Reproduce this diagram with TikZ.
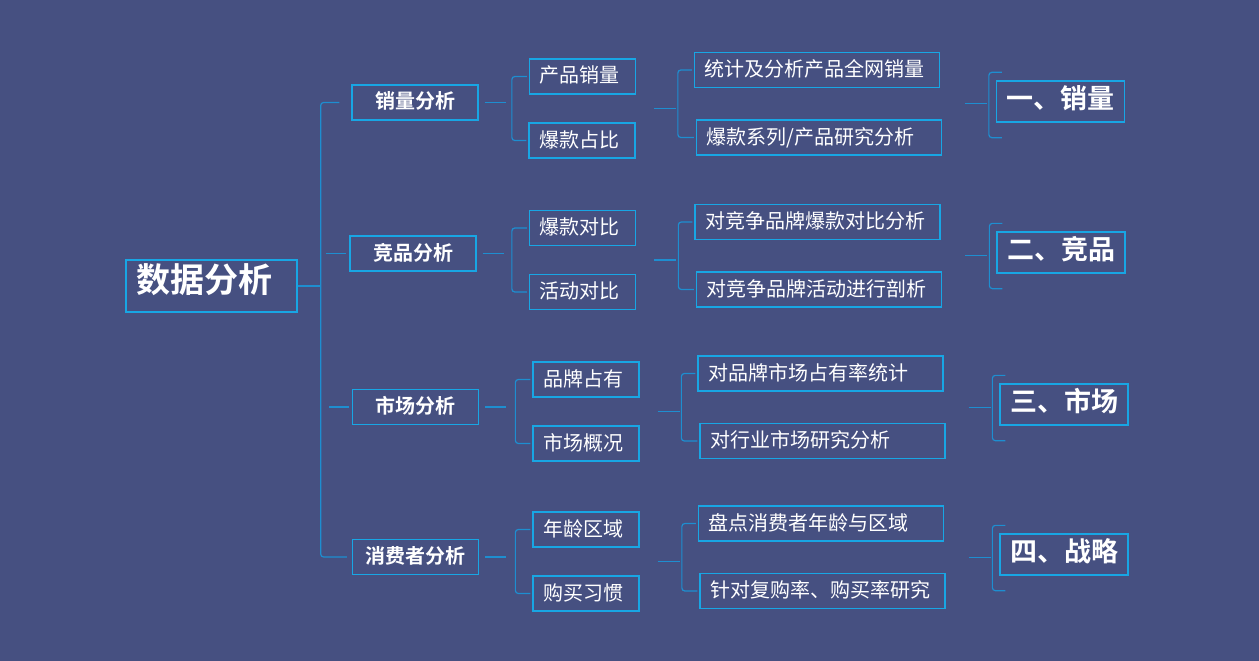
\documentclass[tikz,border=0pt]{standalone}
\usepackage{fontspec}
\setmainfont{Noto Sans CJK SC}[BoldFont={Noto Sans CJK SC Bold}]
\usetikzlibrary{calc}
\definecolor{bgblue}{RGB}{70,80,129}
\definecolor{boxcyan}{RGB}{24,166,228}
\definecolor{linkcyan}{RGB}{30,142,208}
\begin{document}
\begin{tikzpicture}[x=1pt,y=-1pt,
  box/.style={draw=boxcyan, line width=1.3pt, text=white, inner xsep=10pt, inner ysep=0pt, text height=1.3em, text depth=0em},
  rootbox/.style={box, font=\fontsize{34}{40}\selectfont\bfseries, text width=151pt, align=left, minimum height=52pt},
  lvlone/.style={box, font=\fontsize{20}{24}\selectfont\bfseries, inner xsep=0pt, minimum width=126pt, minimum height=35pt},
  lvltwo/.style={box, font=\fontsize{20}{24}\selectfont, text width=86pt, align=left, minimum height=35pt},
  lvlthree/.style={box, font=\fontsize{20}{24}\selectfont, text width=225pt, align=left, minimum height=35pt},
  lvlfour/.style={box, font=\fontsize{27}{32}\selectfont\bfseries, text width=108pt, align=left, minimum height=41pt},
  link/.style={draw=linkcyan, line width=1.2pt}]
\fill[bgblue] (0,0) rectangle (1259,661);
\useasboundingbox (0,0) rectangle (1259,661);
% root and first level
\node[rootbox] (root) at (211.5,286) {数据分析};
\node[lvlone] (b1) at (415,102.5) {销量分析};
\node[lvlone] (b2) at (413,253.5) {竞品分析};
\node[lvlone] (b3) at (415.5,407) {市场分析};
\node[lvlone] (b4) at (415.5,557) {消费者分析};
% second level
\node[lvltwo] (c1) at (582.5,76.5) {产品销量};
\node[lvltwo] (c2) at (582,140.5) {爆款占比};
\node[lvltwo] (c3) at (582.5,228) {爆款对比};
\node[lvltwo] (c4) at (582.5,292) {活动对比};
\node[lvltwo] (c5) at (586,379.5) {品牌占有};
\node[lvltwo] (c6) at (586,443.5) {市场概况};
\node[lvltwo] (c7) at (586,529.5) {年龄区域};
\node[lvltwo] (c8) at (586,593.5) {购买习惯};
% third level
\node[lvlthree] (d1) at (817,70) {统计及分析产品全网销量};
\node[lvlthree] (d2) at (819,137.5) {爆款系列/产品研究分析};
\node[lvlthree] (d3) at (817.5,222) {对竞争品牌爆款对比分析};
\node[lvlthree] (d4) at (819,289.5) {对竞争品牌活动进行剖析};
\node[lvlthree] (d5) at (820.5,373.5) {对品牌市场占有率统计};
\node[lvlthree] (d6) at (822.5,441) {对行业市场研究分析};
\node[lvlthree] (d7) at (821,523.5) {盘点消费者年龄与区域};
\node[lvlthree] (d8) at (822.5,591) {针对复购率、购买率研究};
% results
\node[lvlfour] (e1) at (1060.5,101.5) {一、销量};
\node[lvlfour] (e2) at (1061,252.5) {二、竞品};
\node[lvlfour] (e3) at (1064,404.5) {三、市场};
\node[lvlfour] (e4) at (1064,554.5) {四、战略};
% trunk
\draw[link] (root.east) -- ++(23,0) coordinate (trunk);
\draw[link,rounded corners=3pt] ([xshift=-12pt]b1.west) -- (trunk |- b1.west) -- (trunk |- b4.west) -- ([xshift=-5pt]b4.west);
\draw[link] ([xshift=-23pt]b2.west) -- ([xshift=-3pt]b2.west);
\draw[link] ([xshift=-23pt]b3.west) -- ([xshift=-3pt]b3.west);
% first level to second level
\draw[link] ([xshift=6pt]b1.east) -- ++(21,0);
\draw[link] ([xshift=6pt]b2.east) -- ++(21,0);
\draw[link] ([xshift=6pt]b3.east) -- ++(21,0);
\draw[link] ([xshift=6pt]b4.east) -- ++(21,0);
\draw[link,rounded corners=3pt] ([xshift=-2pt]c1.west) -- ++(-15,0) |- ([xshift=-2pt]c2.west);
\draw[link,rounded corners=3pt] ([xshift=-2pt]c3.west) -- ++(-15,0) |- ([xshift=-2pt]c4.west);
\draw[link,rounded corners=3pt] ([xshift=-2pt]c5.west) -- ++(-15,0) |- ([xshift=-2pt]c6.west);
\draw[link,rounded corners=3pt] ([xshift=-2pt]c7.west) -- ++(-15,0) |- ([xshift=-2pt]c8.west);
% second level to third level
\draw[link] ($(c1.east)!.5!(c2.east)+(18,0)$) -- ++(22,0);
\draw[link] ($(c3.east)!.5!(c4.east)+(18,0)$) -- ++(22,0);
\draw[link] ($(c5.east)!.5!(c6.east)+(18,0)$) -- ++(22,0);
\draw[link] ($(c7.east)!.5!(c8.east)+(18,0)$) -- ++(22,0);
\draw[link,rounded corners=3pt] ([xshift=-2pt]d1.west) -- ++(-14,0) |- ([xshift=-2pt]d2.west);
\draw[link,rounded corners=3pt] ([xshift=-2pt]d3.west) -- ++(-14,0) |- ([xshift=-2pt]d4.west);
\draw[link,rounded corners=3pt] ([xshift=-2pt]d5.west) -- ++(-14,0) |- ([xshift=-2pt]d6.west);
\draw[link,rounded corners=3pt] ([xshift=-2pt]d7.west) -- ++(-14,0) |- ([xshift=-2pt]d8.west);
% third level to results
\draw[link] ($(d1.east)!.5!(d2.east)+(24,0)$) -- ++(22,0);
\draw[link] ($(d3.east)!.5!(d4.east)+(24,0)$) -- ++(22,0);
\draw[link] ($(d5.east)!.5!(d6.east)+(24,0)$) -- ++(22,0);
\draw[link] ($(d7.east)!.5!(d8.east)+(24,0)$) -- ++(22,0);
\draw[link,rounded corners=3pt] ([xshift=6pt,yshift=8pt]e1.north west) -- ++(-13,0) -- ([xshift=-7pt,yshift=-15pt]e1.south west) -- ++(13,0);
\draw[link,rounded corners=3pt] ([xshift=6pt,yshift=8pt]e2.north west) -- ++(-13,0) -- ([xshift=-7pt,yshift=-15pt]e2.south west) -- ++(13,0);
\draw[link,rounded corners=3pt] ([xshift=6pt,yshift=8pt]e3.north west) -- ++(-13,0) -- ([xshift=-7pt,yshift=-15pt]e3.south west) -- ++(13,0);
\draw[link,rounded corners=3pt] ([xshift=6pt,yshift=8pt]e4.north west) -- ++(-13,0) -- ([xshift=-7pt,yshift=-15pt]e4.south west) -- ++(13,0);
\end{tikzpicture}
\end{document}
